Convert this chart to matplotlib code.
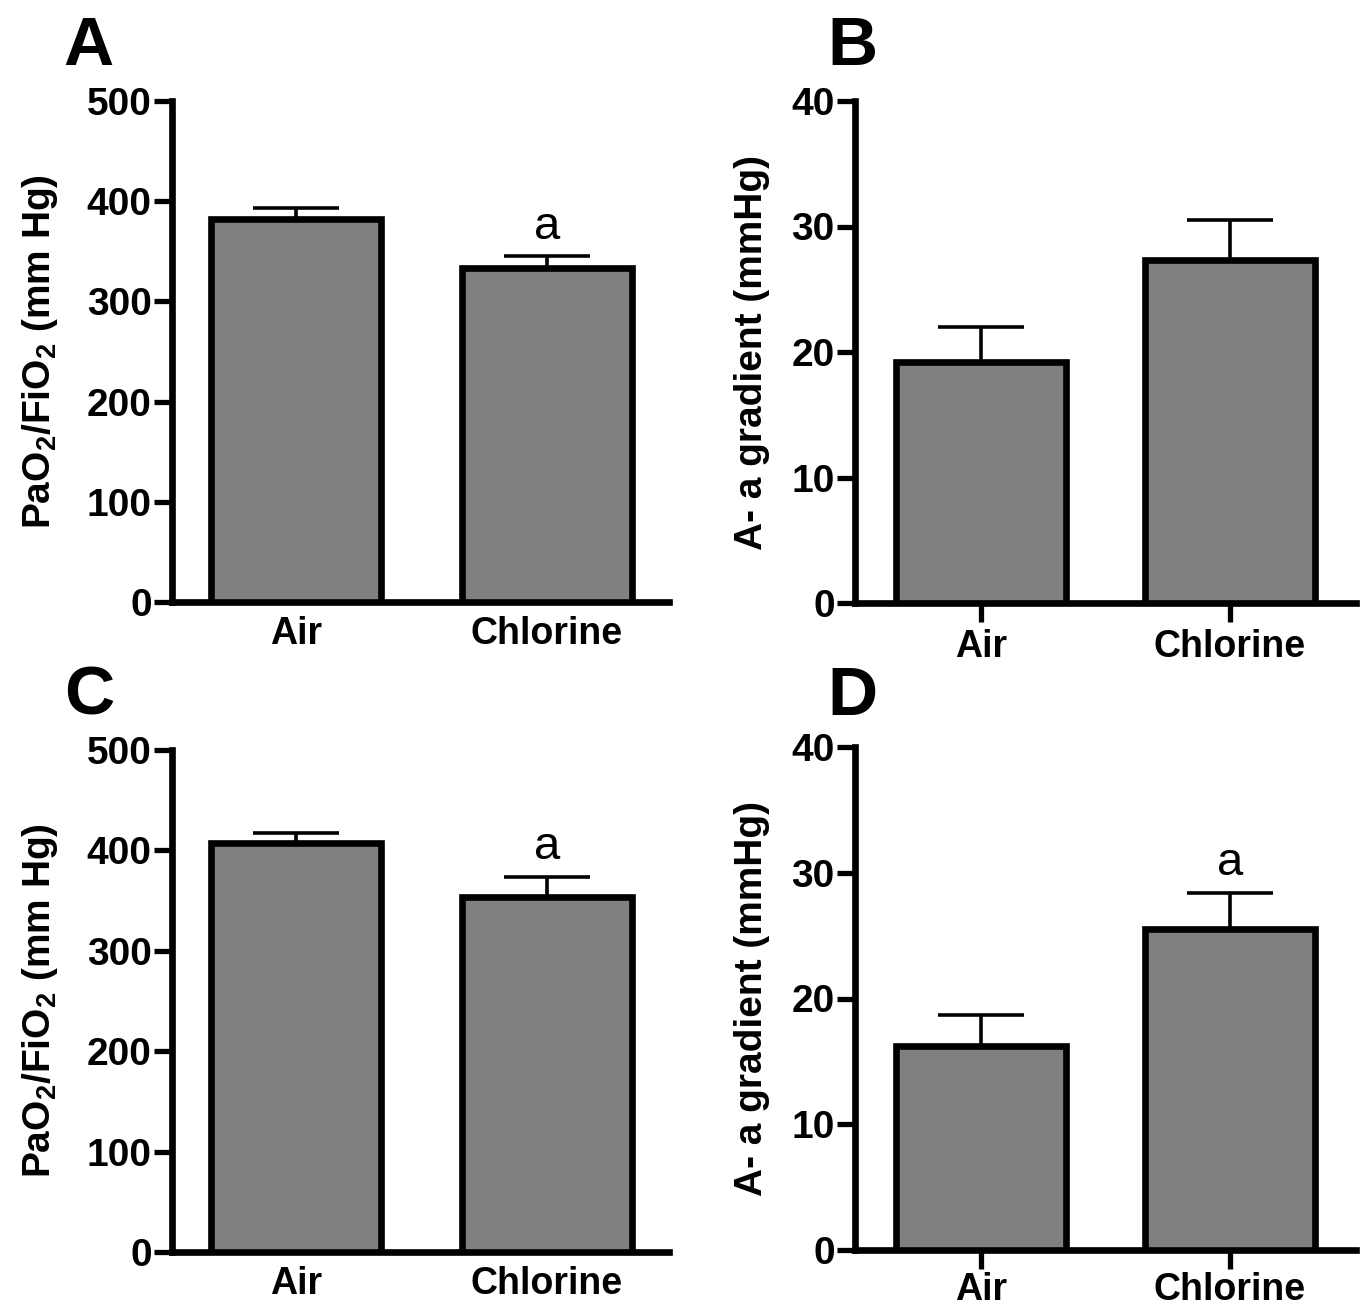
import matplotlib
matplotlib.use('Agg')
import matplotlib.pyplot as plt

plt.rcParams['font.family'] = ['Liberation Sans', 'DejaVu Sans']
plt.rcParams['font.weight'] = 'bold'
plt.rcParams['mathtext.fontset'] = 'custom'
plt.rcParams['mathtext.rm'] = 'Liberation Sans:bold'
plt.rcParams['mathtext.bf'] = 'Liberation Sans:bold'
plt.rcParams['mathtext.default'] = 'regular'

# 数据
groups = ['Air', 'Chlorine']
pf_A = [382, 333]
pf_A_err = [11, 12]
aa_B = [19.2, 27.3]
aa_B_err = [2.8, 3.2]
pf_C = [407, 354]
pf_C_err = [10, 20]
aa_D = [16.2, 25.5]
aa_D_err = [2.5, 2.9]

W, H = 1361, 1307
fig = plt.figure(figsize=(W / 100, H / 100), dpi=100)


def px_axes(left, right, top, bottom):
    return fig.add_axes([left / W, 1 - bottom / H, (right - left) / W, (bottom - top) / H])


def draw_panel(ax, vals, errs, ymax, ystep, ylabel, letter, letter_pos, sig,
               xticks_on, xpad, xlim, label_x):
    index = range(len(groups))
    ax.bar(index, vals, 0.68, color='#808080', edgecolor='black', linewidth=4.8, zorder=3)
    ax.errorbar(index, vals, yerr=[[0] * len(vals), errs], fmt='none', ecolor='black',
                elinewidth=2.6, capsize=31, capthick=2.6, zorder=2)
    ax.set_xlim(*xlim)
    ax.set_ylim(0, ymax)
    ax.set_yticks(range(0, ymax + 1, ystep))
    ax.set_xticks(list(index))
    ax.set_xticklabels(groups, fontsize=27, fontweight='bold')
    for lab in ax.get_yticklabels():
        lab.set_fontsize(28)
        lab.set_fontweight('bold')
    for s in ['top', 'right']:
        ax.spines[s].set_visible(False)
    for s in ['left', 'bottom']:
        ax.spines[s].set_linewidth(4.8)
        ax.spines[s].set_capstyle('projecting')
    ax.tick_params(axis='y', length=13, width=3.8, pad=1.5, direction='out')
    if xticks_on:
        ax.tick_params(axis='x', length=14, width=3.8, pad=xpad, direction='out')
    else:
        ax.tick_params(axis='x', length=0, pad=xpad)
    ax.set_ylabel(ylabel, fontsize=28, fontweight='bold')
    ax.yaxis.set_label_coords(label_x, 0.5)
    ax.text(letter_pos[0], letter_pos[1], letter, transform=ax.transAxes,
            fontsize=50, fontweight='bold', va='baseline', ha='left')
    if sig:
        i = 1
        ax.text(i, vals[i] + errs[i] + ymax * 0.015, 'a', ha='center', va='bottom',
                fontsize=34, fontweight='normal')


pf_label = r'PaO$_2$/FiO$_2$ (mm Hg)'
aa_label = 'A- a gradient (mmHg)'

axA = px_axes(172, 669, 101, 602)
draw_panel(axA, pf_A, pf_A_err, 500, 100, pf_label, 'A', (-0.218, 1.072), True,
           False, 10, (-0.494, 1.486), -0.225)

axB = px_axes(855, 1356, 101, 603)
draw_panel(axB, aa_B, aa_B_err, 40, 10, aa_label, 'B', (-0.056, 1.072), False,
           True, 5, (-0.506, 1.506), -0.17)

axC = px_axes(172, 669, 750, 1252)
draw_panel(axC, pf_C, pf_C_err, 500, 100, pf_label, 'C', (-0.218, 1.07), True,
           False, 10, (-0.494, 1.486), -0.225)

axD = px_axes(855, 1356, 747, 1250)
draw_panel(axD, aa_D, aa_D_err, 40, 10, aa_label, 'D', (-0.056, 1.064), True,
           True, 2, (-0.506, 1.506), -0.17)

plt.savefig('out.png', dpi=100)
